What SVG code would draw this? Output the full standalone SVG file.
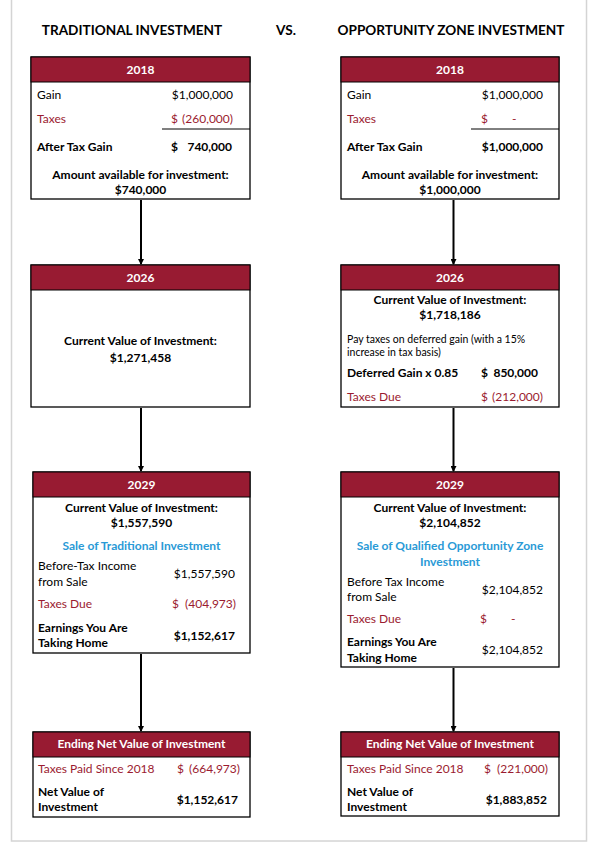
<svg xmlns="http://www.w3.org/2000/svg" width="600" height="854" viewBox="0 0 600 854">
<style>
text{font-family:Lato,"Liberation Sans",sans-serif;font-size:12px;fill:#000}
.b{font-weight:bold}
.t{font-weight:bold;font-size:13.6px}
.h{font-weight:bold;fill:#fff}
.r{fill:#9b1b30}
.bl{fill:#2a9ad6;font-weight:bold}
.s{font-size:10.5px}
.m{text-anchor:middle}
.e{text-anchor:end}
.box{fill:#fff;stroke:#000;stroke-width:1.3}
.hd{fill:#981b32;stroke:#000;stroke-width:1}
.ln{stroke:#000;stroke-width:2;fill:none}
</style>
<defs>
<marker id="ar" markerWidth="6" markerHeight="6" refX="5" refY="3" orient="auto" markerUnits="userSpaceOnUse">
<path d="M0,0 L6,3 L0,6 Z" fill="#000"/>
</marker>
</defs>
<rect x="11.5" y="-2" width="575" height="843" fill="#fff" stroke="#d4d4d4" stroke-width="1.5"/>
<g id="titles">
<text class="t m" x="132" y="35">TRADITIONAL INVESTMENT</text>
<text class="t m" x="286" y="35">VS.</text>
<text class="t m" x="451" y="35">OPPORTUNITY ZONE INVESTMENT</text>
</g>
<g id="connectors">
<line class="ln" x1="141" y1="200" x2="141" y2="264" marker-end="url(#ar)"/>
<line class="ln" x1="141" y1="408" x2="141" y2="471" marker-end="url(#ar)"/>
<line class="ln" x1="141" y1="654" x2="141" y2="731" marker-end="url(#ar)"/>
<line class="ln" x1="453.5" y1="200" x2="453.5" y2="264" marker-end="url(#ar)"/>
<line class="ln" x1="453.5" y1="408" x2="453.5" y2="471" marker-end="url(#ar)"/>
<line class="ln" x1="453.5" y1="668" x2="453.5" y2="731" marker-end="url(#ar)"/>
</g>
<g id="trad2018">
<rect class="box" x="31" y="57" width="219" height="142"/>
<rect class="hd" x="31" y="57" width="219" height="25"/>
<text class="h m" x="140.5" y="74">2018</text>
<text x="37" y="99">Gain</text>
<text class="e" x="233" y="99">$1,000,000</text>
<text class="r" x="37" y="123">Taxes</text>
<text class="r" x="171" y="123">$</text>
<text class="r e" x="233" y="123">(260,000)</text>
<line x1="162" y1="129" x2="250" y2="129" stroke="#000" stroke-width="1"/>
<text class="b" x="37" y="151">After Tax Gain</text>
<text class="b" x="171" y="151">$</text>
<text class="b e" x="232" y="151">740,000</text>
<text class="b m" x="140.5" y="179">Amount available for investment:</text>
<text class="b m" x="140.5" y="194">$740,000</text>
</g>
<g id="oz2018">
<rect class="box" x="341" y="57" width="218" height="142"/>
<rect class="hd" x="341" y="57" width="218" height="25"/>
<text class="h m" x="450" y="74">2018</text>
<text x="347" y="99">Gain</text>
<text class="e" x="543" y="99">$1,000,000</text>
<text class="r" x="347" y="123">Taxes</text>
<text class="r" x="481" y="123">$</text>
<text class="r" x="512" y="123">-</text>
<line x1="471" y1="129" x2="559" y2="129" stroke="#000" stroke-width="1"/>
<text class="b" x="347" y="151">After Tax Gain</text>
<text class="b e" x="543" y="151">$1,000,000</text>
<text class="b m" x="450" y="179">Amount available for investment:</text>
<text class="b m" x="450" y="194">$1,000,000</text>
</g>
<g id="trad2026">
<rect class="box" x="31" y="265" width="219" height="142"/>
<rect class="hd" x="31" y="265" width="219" height="25"/>
<text class="h m" x="140.5" y="282">2026</text>
<text class="b m" x="140.5" y="345">Current Value of Investment:</text>
<text class="b m" x="140.5" y="362">$1,271,458</text>
</g>
<g id="oz2026">
<rect class="box" x="341" y="265" width="218" height="142"/>
<rect class="hd" x="341" y="265" width="218" height="25"/>
<text class="h m" x="450" y="282">2026</text>
<text class="b m" x="450" y="304">Current Value of Investment:</text>
<text class="b m" x="450" y="318.5">$1,718,186</text>
<text class="s" x="347" y="343">Pay taxes on deferred gain (with a 15%</text>
<text class="s" x="347" y="356">increase in tax basis)</text>
<text class="b" x="347" y="377">Deferred Gain x 0.85</text>
<text class="b" x="481" y="377">$</text>
<text class="b e" x="538" y="377">850,000</text>
<text class="r" x="347" y="401">Taxes Due</text>
<text class="r" x="481" y="401">$</text>
<text class="r e" x="543" y="401">(212,000)</text>
</g>
<g id="trad2029">
<rect class="box" x="33" y="472" width="217" height="181"/>
<rect class="hd" x="33" y="472" width="217" height="25"/>
<text class="h m" x="141.5" y="489">2029</text>
<text class="b m" x="141.5" y="512">Current Value of Investment:</text>
<text class="b m" x="141.5" y="527">$1,557,590</text>
<text class="bl m" x="141.5" y="550">Sale of Traditional Investment</text>
<text x="38" y="570">Before-Tax Income</text>
<text x="38" y="586">from Sale</text>
<text class="e" x="235" y="578">$1,557,590</text>
<text class="r" x="38" y="608">Taxes Due</text>
<text class="r" x="172" y="608">$</text>
<text class="r e" x="236" y="608">(404,973)</text>
<text class="b" x="38" y="632">Earnings You Are</text>
<text class="b" x="38" y="647">Taking Home</text>
<text class="b e" x="235" y="640">$1,152,617</text>
</g>
<g id="oz2029">
<rect class="box" x="341" y="472" width="218" height="195"/>
<rect class="hd" x="341" y="472" width="218" height="25"/>
<text class="h m" x="450" y="489">2029</text>
<text class="b m" x="450" y="512">Current Value of Investment:</text>
<text class="b m" x="450" y="527">$2,104,852</text>
<text class="bl m" x="450" y="550">Sale of Qualified Opportunity Zone</text>
<text class="bl m" x="450" y="566">Investment</text>
<text x="347" y="586">Before Tax Income</text>
<text x="347" y="601">from Sale</text>
<text class="e" x="543" y="594">$2,104,852</text>
<text class="r" x="347" y="623">Taxes Due</text>
<text class="r" x="480" y="623">$</text>
<text class="r" x="511" y="623">-</text>
<text class="b" x="347" y="646">Earnings You Are</text>
<text class="b" x="347" y="662">Taking Home</text>
<text class="e" x="543" y="654">$2,104,852</text>
</g>
<g id="tradEnd">
<rect class="box" x="33" y="732" width="217" height="85"/>
<rect class="hd" x="33" y="732" width="217" height="25"/>
<text class="h m" x="141.5" y="748">Ending Net Value of Investment</text>
<text class="r" x="38" y="773">Taxes Paid Since 2018</text>
<text class="r" x="177" y="773">$</text>
<text class="r e" x="240" y="773">(664,973)</text>
<text class="b" x="38" y="796">Net Value of</text>
<text class="b" x="38" y="811">Investment</text>
<text class="b e" x="238" y="804">$1,152,617</text>
</g>
<g id="ozEnd">
<rect class="box" x="341" y="732" width="218" height="84"/>
<rect class="hd" x="341" y="732" width="218" height="25"/>
<text class="h m" x="450" y="748">Ending Net Value of Investment</text>
<text class="r" x="347" y="773">Taxes Paid Since 2018</text>
<text class="r" x="484" y="773">$</text>
<text class="r e" x="548" y="773">(221,000)</text>
<text class="b" x="347" y="796">Net Value of</text>
<text class="b" x="347" y="811">Investment</text>
<text class="b e" x="547" y="804">$1,883,852</text>
</g>
</svg>
